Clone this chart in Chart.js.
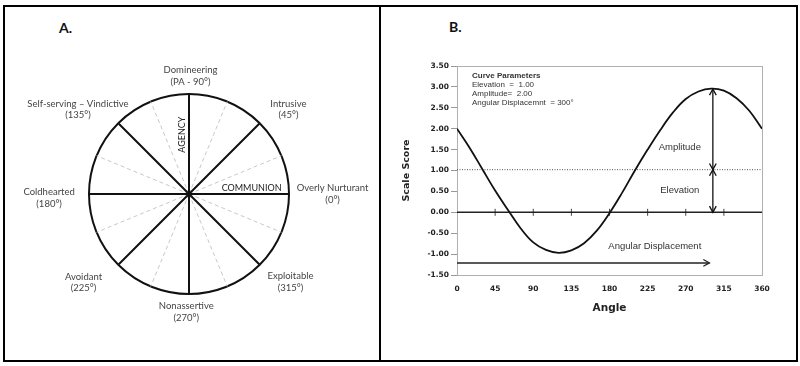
<!DOCTYPE html>
<html>
<head>
<meta charset="utf-8">
<script src="https://cdn.jsdelivr.net/npm/chart.js@4.4.0/dist/chart.umd.min.js"></script>
<style>
  body { margin: 0; background: #fff; }
  #page { position: relative; width: 800px; height: 366px; overflow: hidden; background: #fff; }
  .box { position: absolute; }
  .tag { position: absolute; font: bold 14px Lato, "Liberation Sans", sans-serif; line-height: 14px; color: #111; }
</style>
</head>
<body>
<div id="page">
  <div class="box" style="left:3px;top:5px;width:795px;height:357px;border:2px solid #000;box-sizing:border-box"></div>
  <div class="box" style="left:379px;top:5px;width:2px;height:357px;background:#000"></div>
  <div class="tag" style="left:59px;top:21px">A.</div>
  <div class="tag" style="left:449px;top:20px">B.</div>
  <div class="box" style="left:6px;top:8px;width:372px;height:351px"><canvas id="circumplex"></canvas></div>
  <div class="box" style="left:382px;top:8px;width:413px;height:351px"><canvas id="curve"></canvas></div>
</div>
<script>
// Panel A: circumplex octants (clockwise from the top)
const octantNames = ['Domineering', 'Intrusive', 'Overly Nurturant', 'Exploitable',
  'Nonassertive', 'Avoidant', 'Coldhearted', 'Self-serving \u2013 Vindictive'];
const octantAngles = ['(PA - 90\u00b0)', '(45\u00b0)', '(0\u00b0)', '(315\u00b0)',
  '(270\u00b0)', '(225\u00b0)', '(180\u00b0)', '(135\u00b0)'];
// 16 directions: solid spokes on the octants, dashed guides in between
const spokes = [1, 0, 1, 0, 1, 0, 1, 0, 1, 0, 1, 0, 1, 0, 1, 0];

// Panel B: predicted scale scores around the circle
const angles = [0, 15, 30, 45, 60, 75, 90, 105, 120, 135, 150, 165, 180,
  195, 210, 225, 240, 255, 270, 285, 300, 315, 330, 345, 360];
const scores = [2.00, 1.54, 1.03, 0.52, 0.06, -0.38, -0.72, -0.90, -0.97, -0.91, -0.74, -0.44, -0.02,
  0.47, 1.00, 1.50, 1.97, 2.39, 2.71, 2.89, 2.96, 2.91, 2.73, 2.43, 2.00];
const tickAngles = [45, 90, 135, 180, 225, 270, 315];
const elevation = 1.02;
const peakAngle = 302;
const peakScore = 2.95;
const displacementEnd = 298;
const displacementLevel = -1.21;
const curveParams = ['Elevation  =  1.00', 'Amplitude=  2.00', 'Angular Displacemnt  = 300\u00b0'];

// label centres around the circle, in units of the radius
const labelOffsets = [[0.015, -1.178], [0.994, -0.847], [1.436, 0], [1.015, 0.881],
  [-0.027, 1.179], [-1.055, 0.884], [-1.399, 0.04], [-1.11, -0.847]];

const circleText = {
  id: 'circleText',
  afterDatasetsDraw(chart) {
    const s = chart.scales.r;
    const r = s.drawingArea;
    const ctx = chart.ctx;
    ctx.save();
    ctx.fillStyle = '#444';
    ctx.textAlign = 'center';
    ctx.textBaseline = 'middle';
    ctx.font = '9.5px Lato';
    octantNames.forEach((name, i) => {
      const x = s.xCenter + labelOffsets[i][0] * r;
      const y = s.yCenter + labelOffsets[i][1] * r;
      ctx.fillText(name, x, y - 5.8);
      ctx.fillText(octantAngles[i], x, y + 5.8);
    });
    ctx.fillStyle = '#222';
    ctx.font = '9px Lato';
    ctx.fillText('COMMUNION', s.xCenter + 0.626 * r, s.yCenter - 0.058 * r);
    ctx.translate(s.xCenter - 0.068 * r, s.yCenter - 0.593 * r);
    ctx.rotate(-Math.PI / 2);
    ctx.fillText('AGENCY', 0, 0);
    ctx.restore();
  }
};

new Chart(document.getElementById('circumplex'), {
  type: 'radar',
  data: {
    labels: spokes.map((_, i) => i),
    datasets: [{
      data: spokes,
      borderColor: '#111',
      borderWidth: 2,
      borderJoinStyle: 'bevel',
      pointRadius: 0,
      fill: false,
      tension: 0
    }]
  },
  options: {
    responsive: true,
    maintainAspectRatio: false,
    animation: false,
    layout: { padding: { left: 83, top: 86, right: 89, bottom: 65 } },
    plugins: { legend: { display: false }, tooltip: { enabled: false } },
    scales: {
      r: {
        min: 0,
        max: 1,
        ticks: { display: false, stepSize: 1 },
        grid: { circular: true, color: '#111', lineWidth: 2 },
        angleLines: { display: true, color: '#c8c8c8', lineWidth: 1, borderDash: [4, 3] },
        pointLabels: { display: false }
      }
    }
  },
  plugins: [circleText]
});

function arrowHead(ctx, x0, y0, x1, y1) {
  const a = Math.atan2(y1 - y0, x1 - x0), len = 7, spread = 0.5;
  ctx.beginPath();
  ctx.moveTo(x1 - len * Math.cos(a - spread), y1 - len * Math.sin(a - spread));
  ctx.lineTo(x1, y1);
  ctx.lineTo(x1 - len * Math.cos(a + spread), y1 - len * Math.sin(a + spread));
  ctx.stroke();
}

function doubleArrow(ctx, x, y0, y1) {
  ctx.beginPath();
  ctx.moveTo(x, y0);
  ctx.lineTo(x, y1);
  ctx.stroke();
  arrowHead(ctx, x, y1, x, y0);
  arrowHead(ctx, x, y0, x, y1);
}

const curveNotes = {
  id: 'curveNotes',
  beforeDatasetsDraw(chart) {
    const { ctx, chartArea: a } = chart;
    ctx.save();
    ctx.strokeStyle = '#b0b0b0';
    ctx.lineWidth = 1;
    ctx.strokeRect(a.left + 0.5, a.top + 0.5, a.right - a.left, a.bottom - a.top);
    ctx.restore();
  },
  afterDatasetsDraw(chart) {
    const { ctx, chartArea: a, scales: { x, y } } = chart;
    ctx.save();
    ctx.fillStyle = '#333';
    ctx.textBaseline = 'middle';
    ctx.textAlign = 'left';
    ctx.font = 'bold 8px "Liberation Sans"';
    ctx.fillText('Curve Parameters', a.left + 15, a.top + 10);
    ctx.font = '8px "Liberation Sans"';
    curveParams.forEach((t, i) => ctx.fillText(t, a.left + 15, a.top + 19 + i * 9));

    ctx.textAlign = 'center';
    ctx.font = '9.5px "Liberation Sans"';
    ctx.fillText('Amplitude', x.getPixelForValue(263), y.getPixelForValue(1.56));
    ctx.fillText('Elevation', x.getPixelForValue(263), y.getPixelForValue(0.53));
    ctx.fillText('Angular Displacement', x.getPixelForValue(233.5), y.getPixelForValue(-0.81));

    ctx.strokeStyle = '#111';
    ctx.lineWidth = 1.3;
    const px = x.getPixelForValue(peakAngle);
    doubleArrow(ctx, px, y.getPixelForValue(0), y.getPixelForValue(elevation));
    doubleArrow(ctx, px, y.getPixelForValue(elevation), y.getPixelForValue(peakScore));

    ctx.strokeStyle = '#222';
    ctx.lineWidth = 1.5;
    const hy = y.getPixelForValue(displacementLevel);
    const x0 = x.getPixelForValue(0), x1 = x.getPixelForValue(displacementEnd);
    ctx.beginPath();
    ctx.moveTo(x0, hy);
    ctx.lineTo(x1, hy);
    ctx.stroke();
    ctx.lineWidth = 1.2;
    arrowHead(ctx, x0, hy, x1, hy);
    ctx.restore();
  }
};

const tickFont = { family: 'DejaVu Sans', size: 7.5, weight: 'bold' };

new Chart(document.getElementById('curve'), {
  type: 'scatter',
  data: {
    datasets: [
      {
        data: angles.map((a, i) => ({ x: a, y: scores[i] })),
        showLine: true,
        borderColor: '#111',
        borderWidth: 1.8,
        pointRadius: 0,
        tension: 0.4
      },
      {
        data: [{ x: 0, y: elevation }, { x: 360, y: elevation }],
        showLine: true,
        borderColor: '#555',
        borderWidth: 1,
        borderDash: [1, 1.5],
        pointRadius: 0
      },
      {
        data: [{ x: 0, y: 0 }, { x: 360, y: 0 }],
        showLine: true,
        borderColor: '#222',
        borderWidth: 1.5,
        pointRadius: 0
      },
      {
        data: tickAngles.map(a => ({ x: a, y: 0 })),
        pointStyle: 'line',
        rotation: 90,
        pointRadius: 3.5,
        borderColor: '#444',
        borderWidth: 1
      }
    ]
  },
  options: {
    responsive: true,
    maintainAspectRatio: false,
    animation: false,
    layout: { padding: { left: 0, top: 58, right: 33, bottom: 40 } },
    plugins: { legend: { display: false }, tooltip: { enabled: false } },
    scales: {
      x: {
        type: 'linear',
        min: 0,
        max: 360,
        afterFit: s => { s.height = 44; },
        ticks: { stepSize: 45, padding: 2, color: '#222', font: tickFont, maxRotation: 0 },
        grid: { display: false },
        border: { display: false },
        title: { display: true, text: 'Angle', color: '#222',
          font: { family: 'DejaVu Sans', size: 10.5, weight: 'bold' }, padding: { top: 0, bottom: 4 } }
      },
      y: {
        min: -1.5,
        max: 3.5,
        afterFit: s => { s.width = 75; },
        ticks: { stepSize: 0.5, padding: 2, color: '#222', font: tickFont, callback: v => v.toFixed(2) },
        grid: { drawOnChartArea: false, drawTicks: true, tickLength: 6, color: '#999' },
        border: { display: false },
        title: { display: true, text: 'Scale Score', color: '#222',
          font: { family: 'DejaVu Sans', size: 9.5, weight: 'bold' }, padding: { top: 19, bottom: 0 } }
      }
    }
  },
  plugins: [curveNotes]
});
</script>
</body>
</html>
